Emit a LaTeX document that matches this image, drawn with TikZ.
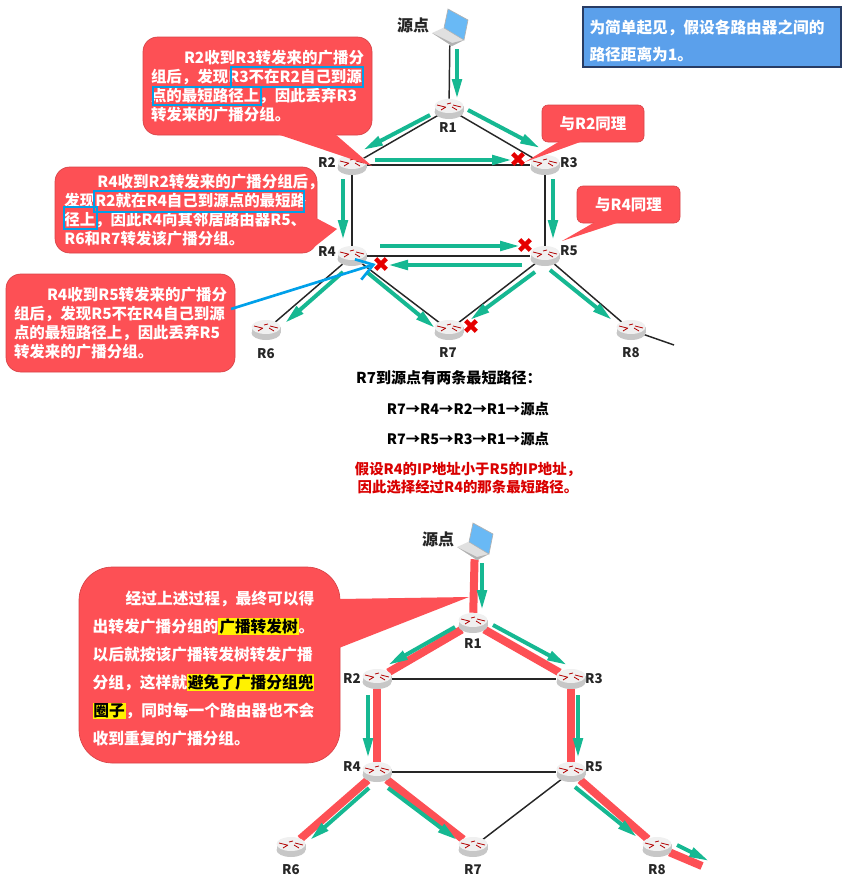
\documentclass[tikz,border=0pt]{standalone}
\usepackage{fontspec}
\setmainfont{Noto Sans CJK SC}
\usetikzlibrary{arrows.meta,backgrounds,shapes.geometric,shapes.misc}
\definecolor{notered}{RGB}{253,80,85}
\definecolor{flowgreen}{RGB}{22,184,146}
\definecolor{markblue}{RGB}{0,160,233}
\definecolor{infoblue}{RGB}{91,160,235}
\definecolor{infoedge}{RGB}{40,60,100}
\definecolor{screenblue}{RGB}{105,185,245}
\tikzset{
  link/.style={line width=1.1pt,black!85},
  treelink/.style={line width=6pt,notered},
  flow/.style={line width=3pt,flowgreen,-{Triangle[length=15pt,width=7pt]}},
  note/.style={fill=notered,draw=notered!85!black,line width=.5pt,text=white,align=left,inner sep=0pt,
    font=\fontsize{11.6}{14.3}\selectfont\bfseries},
  info/.style={fill=infoblue,draw=infoedge,line width=1pt,text=white,align=left,inner sep=0pt,
    font=\fontsize{11.75}{20.5}\selectfont\bfseries},
  markbox/.style={draw=markblue,line width=1.6pt},
  redx/.style={cross out,draw=red!90!black,line width=3.4pt,minimum size=8pt,inner sep=0pt,outer sep=0pt},
  routernode/.style={ellipse,minimum width=21.75pt,minimum height=15pt,inner sep=0pt},
  routerside/.style={fill=black!22},
  routertop/.style={fill=black!6},
  routertick/.style={red!70!black,line width=.6pt},
  routerlabel/.style={font=\fontsize{10}{10}\selectfont\bfseries,text=black!85,inner sep=0pt},
  srcnode/.style={minimum size=27pt,inner sep=0pt},
  heading/.style={font=\fontsize{12}{12}\selectfont\bfseries,text=black!85,inner sep=0pt},
  pathline/.style={font=\fontsize{10.8}{14}\selectfont\bfseries,inner sep=0pt},
}
\newcommand{\hlt}[1]{{\setlength{\fboxsep}{.6pt}\colorbox{yellow}{\textcolor{black}{#1}}}}
\newcommand{\router}[4]{%
  \node[routernode] (#1) at (#2) {};
  \begin{scope}[shift={(#2)}]
    \fill[routerside] (0,3) ellipse (14.5 and 7);
    \fill[routerside] (-14.5,-3) rectangle (14.5,3);
    \fill[routertop] (0,-3) ellipse (14.5 and 7);
    \draw[routertick] (-12,-4) -- (-4,-2) (-8,1) -- (-3,-2) (12,-2) -- (4,-4) (8,1) -- (3,-2) (2,-6) -- (-2,-5);
  \end{scope}
  \node[routerlabel] (#1lbl) at (#3) {#4};
}
\newcommand{\laptop}[2]{%
  \node[srcnode] (#1) at (#2) {};
  \begin{scope}[shift={(#2)}]
    \fill[black!12] (-18,6) -- (-7,1) -- (14,13) -- (2,19) -- cycle;
    \fill[black!30] (-18,6) -- (2,19) -- (14,13) -- (2,16) -- cycle;
    \fill[screenblue] (-2,-18) -- (18,-7) -- (14,13) -- (-6,1) -- cycle;
    \draw[black!30,line width=.5pt] (-2,-18) -- (18,-7) -- (14,13) -- (-6,1) -- cycle;
  \end{scope}
}
\begin{document}
\begin{tikzpicture}[x=0.75pt,y=-0.75pt]
\useasboundingbox (0,0) rectangle (849,885);
% upper network
\laptop{src}{450,27}
\router{r1}{449,109}{448,128}{R1}
\router{r2}{352,165}{327,163}{R2}
\router{r3}{545,165}{569,163}{R3}
\router{r4}{352,256}{327,252}{R4}
\router{r5}{545,256}{569,251}{R5}
\router{r6}{266,330}{266,354}{R6}
\router{r7}{449,330}{448,353}{R7}
\router{r8}{631,330}{631,353}{R8}
\coordinate (tailA) at (674,345);
\node[heading] (srclbl) at (413,25) {源点};
% lower network
\laptop{psrc}{475,541}
\router{p1}{473,623}{473,644}{R1}
\router{p2}{377,679}{352,679}{R2}
\router{p3}{571,679}{594,679}{R3}
\router{p4}{377,772}{352,767}{R4}
\router{p5}{571,772}{594,767}{R5}
\router{p6}{291,847}{291,870}{R6}
\router{p7}{473,847}{473,870}{R7}
\router{p8}{657,847}{657,870}{R8}
\coordinate (tailB) at (702,866);
\node[heading] (psrclbl) at (438,539) {源点};
\begin{scope}[on background layer]
  \foreach \a/\b in {src/r1,r1/r2,r1/r3,r2/r3,r2/r4,r3/r5,r4/r5,r4/r6,r4/r7,r5/r7,r5/r8,r8/tailA,p2/p3,p4/p5,p5/p7}
    \draw[link] (\a) -- (\b);
  \foreach \a/\b in {psrc/p1,p1/p2,p1/p3,p2/p4,p3/p5,p4/p6,p4/p7,p5/p8,p8/tailB}
    \draw[treelink] (\a) -- (\b);
\end{scope}
% green arrows, offsets from the router centres
\foreach \a/\ax/\ay/\b/\bx/\by in {
    src/7/22/r1/8/-10, r1/-19/6/r2/11/-15, r1/19/1/r3/-5/-17, r2/23/-5/r3/-33/-5,
    r2/-9/14/r4/-9/-16, r3/8/14/r5/8/-16, r4/28/-10/r5/-25/-10, r5/-23/9/r4/36/9,
    r4/-9/16/r6/19/-7, r4/16/17/r7/-14/-2, r5/-10/16/r7/21/-10, r5/5/14/r8/-19/-10,
    psrc/7/22/p1/9/-13, p1/-18/4/p2/11/-14, p1/20/2/p3/-4/-14, p2/-9/16/p4/-9/-14,
    p3/7/16/p5/7/-14, p4/-8/16/p6/19/-7, p4/11/16/p7/-16/-7, p5/4/15/p8/-20/-10,
    p8/20/-2/tailB/7/-5}
  \draw[flow] ([shift={(\ax,\ay)}]\a.center) -- ([shift={(\bx,\by)}]\b.center);
% dropped copies
\node[redx] (x1) at (518,159) {};
\node[redx] (x2) at (525,245) {};
\node[redx] (x3) at (381,264) {};
\node[redx] (x4) at (471,326) {};
% callouts
\node[note,rounded corners=11pt,minimum width=171.75pt,minimum height=73.5pt] (noteA) at (257.5,86)
  {\hspace*{24.75pt}R2收到R3转发来的广播分\\组后，发现R3不在R2自己到源\\点的最短路径上，因此丢弃R3\\转发来的广播分组。};
\fill[notered] (277,134) -- (372,166) -- (335,134) -- cycle;
\draw[markbox] (231,67) rectangle (363,87) (153,87) rectangle (261,105);
\node[note,rounded corners=11pt,minimum width=196.5pt,minimum height=64.5pt] (noteB) at (186,210)
  {\hspace*{24.75pt}R4收到R2转发来的广播分组后，\hspace*{-12pt}\\发现R2就在R4自己到源点的最短路\\径上，因此R4向其邻居路由器R5、\\R6和R7转发该广播分组。};
\fill[notered] (316,218) -- (337,229) -- (308,252) -- cycle;
\draw[markbox] (94,191) rectangle (304,212) (64,207) rectangle (97,229);
\node[note,rounded corners=11pt,minimum width=171.75pt,minimum height=73.5pt] (noteC) at (120.5,323)
  {\hspace*{24.75pt}R4收到R5转发来的广播分\\组后，发现R5不在R4自己到源\\点的最短路径上，因此丢弃R5\\转发来的广播分组。};
\coordinate (noteCout) at (231,309);
\draw[markblue,line width=2pt,-{Straight Barb[length=12pt,width=16pt]}] (noteCout) -- (x3.west);
\node[note,rounded corners=4.5pt,minimum width=76.5pt,minimum height=27.75pt] (noteD) at (593,123.5) {与R2同理};
\fill[notered] (560,141) -- (525,162) -- (583,141) -- cycle;
\node[note,rounded corners=4.5pt,minimum width=77.25pt,minimum height=27.75pt] (noteE) at (628.5,204.5) {与R4同理};
\fill[notered] (595,222) -- (562,241) -- (620,222) -- cycle;
\node[info,minimum width=193.5pt,minimum height=45pt] (infoA) at (712,37)
  {\rule{0pt}{16pt}为简单起见，假设各路由器之间的\hspace*{7.5pt}\\路径距离为1。};
% path text
\node[pathline,font=\fontsize{11.3}{14}\selectfont\bfseries] (pathA) at (449,378) {R7到源点有两条最短路径：};
\node[pathline] (pathB) at (468,409) {R7→R4→R2→R1→源点};
\node[pathline] (pathC) at (468,439) {R7→R5→R3→R1→源点};
\node[pathline,text=red!85!black,align=center] (pathD) at (468,478)
  {假设R4的IP地址小于R5的IP地址，\\因此选择经过R4的那条最短路径。};
% lower callout
\node[note,rounded corners=25pt,minimum width=195.75pt,minimum height=147pt,
  font=\fontsize{11.8}{21}\selectfont\bfseries] (noteF) at (209.5,665)
  {\rule{0pt}{16pt}\hspace*{24.75pt}经过上述过程，最终可以得\hspace*{9pt}\\出转发广播分组的\hlt{广播转发树}。\\以后就按该广播转发树转发广播\\分组，这样就\hlt{避免了广播分组兜}\\\hlt{圈子}，同时每一个路由器也不会\\收到重复的广播分组。};
\fill[notered] (339,599) -- (469,597) -- (339,648) -- cycle;
\end{tikzpicture}
\end{document}
